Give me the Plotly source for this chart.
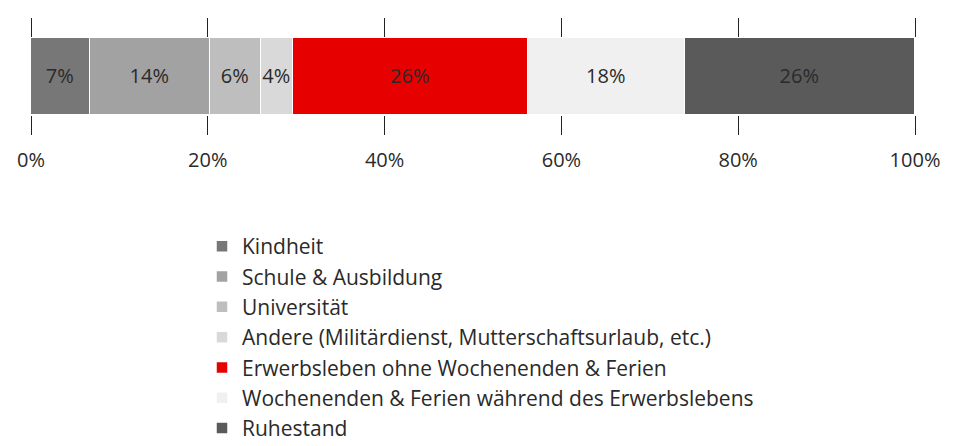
import plotly.graph_objects as go

categories = ["Kindheit", "Schule & Ausbildung", "Universität",
              "Andere (Militärdienst, Mutterschaftsurlaub, etc.)",
              "Erwerbsleben ohne Wochenenden & Ferien",
              "Wochenenden & Ferien während des Erwerbslebens",
              "Ruhestand"]
values = [6.7, 13.5, 5.8, 3.6, 26.6, 17.8, 26.0]
labels = ["7%", "14%", "6%", "4%", "26%", "18%", "26%"]
colors = ["#777777", "#a2a2a2", "#bebebe", "#d9d9d9", "#e60000", "#f0f0f0", "#5a5a5a"]
tick_vals = [0, 20, 40, 60, 80, 100]
tick_text = ["0%", "20%", "40%", "60%", "80%", "100%"]

FONT = "Open Sans, Noto Sans, sans-serif"

fig = go.Figure()
for name, v, lab, c in zip(categories, values, labels, colors):
    fig.add_trace(go.Bar(
        x=[v], y=[""], orientation="h", name=name,
        marker=dict(color=c, line=dict(color="white", width=1.5)),
        text=[lab], textposition="inside", insidetextanchor="middle",
        textangle=0, constraintext="none",
        textfont=dict(size=20, color="#2a2a2a", family=FONT),
        hoverinfo="skip",
    ))

fig.update_layout(
    width=960, height=446,
    barmode="stack", bargap=0,
    paper_bgcolor="white", plot_bgcolor="white",
    margin=dict(l=31, r=45, t=38, b=0, autoexpand=False),
    font=dict(family=FONT, size=20, color="#2a2a2a"),
    uniformtext=dict(minsize=20, mode="show"),
    xaxis=dict(range=[0, 100], tickvals=tick_vals, ticktext=tick_text,
               ticks="outside", ticklen=19, tickcolor="#222222", tickwidth=1,
               mirror="ticks", showline=False, showgrid=False, zeroline=False,
               ticklabelstandoff=8, automargin=False,
               tickfont=dict(size=20, color="#2a2a2a")),
    yaxis=dict(domain=[0.811, 1], range=[-0.5, 0.5], showticklabels=False,
               showgrid=False, zeroline=False, showline=False, automargin=False),
    legend=dict(orientation="v", x=(202 - 31) / 884, y=0.539, xanchor="left", yanchor="top",
                traceorder="normal", font=dict(size=21, color="#2a2a2a"),
                bgcolor="rgba(0,0,0,0)", itemclick=False, itemdoubleclick=False),
    showlegend=True,
)

fig.write_html("out.html", config={"displayModeBar": False},
               post_script="document.body.style.margin='0';document.body.style.overflow='hidden';")
